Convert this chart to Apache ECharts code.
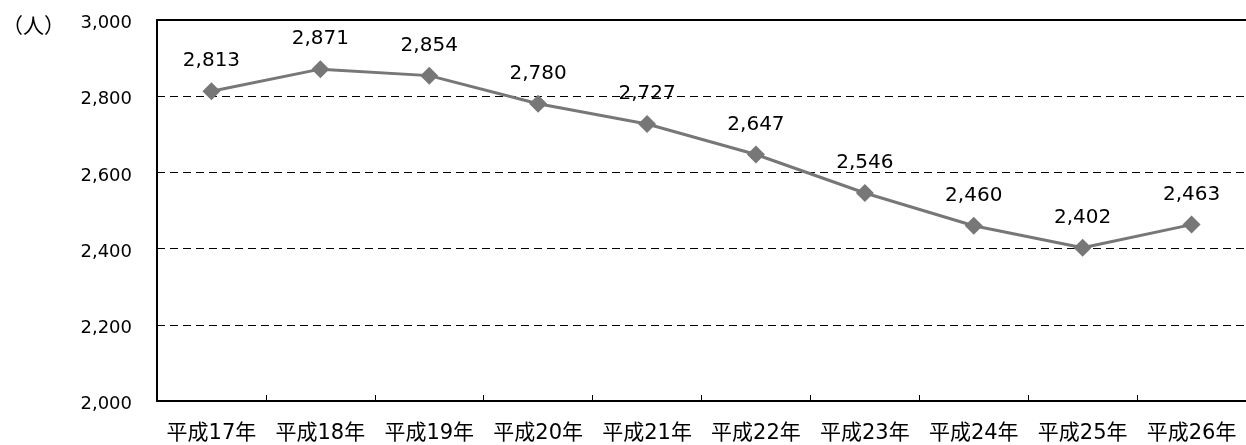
<!DOCTYPE html>
<html><head><meta charset="utf-8">
<script src="https://cdn.jsdelivr.net/npm/echarts@6/dist/echarts.min.js"></script>
<style>html,body{margin:0;padding:0;background:#fff}#c{width:1246px;height:445px}</style>
</head><body><div id="c"></div>
<script>
const categories = ['平成17年','平成18年','平成19年','平成20年','平成21年','平成22年','平成23年','平成24年','平成25年','平成26年'];
const values = [2813, 2871, 2854, 2780, 2727, 2647, 2546, 2460, 2402, 2463];
const unitLabel = '（人）';
const yMin = 2000, yMax = 3000, yStep = 200;

const font = '"DejaVu Sans", "Noto Sans CJK JP", sans-serif';
const chart = echarts.init(document.getElementById('c'), null, {renderer: 'canvas'});
chart.setOption({
  animation: false,
  backgroundColor: '#fff',
  textStyle: {fontFamily: font, color: '#000'},
  graphic: [{type: 'text', left: 2, top: 15, style: {text: unitLabel, font: '21px "Noto Sans CJK JP", sans-serif', fill: '#000'}}],
  grid: {left: 157, top: 20, width: 1096, bottom: 44, containLabel: false},
  xAxis: [{
    type: 'category', data: categories, boundaryGap: true,
    axisLine: {lineStyle: {color: '#000', width: 2}},
    axisTick: {show: true, inside: true, length: 6, lineStyle: {color: '#000', width: 1}},
    axisLabel: {fontSize: 21, color: '#000', margin: 22, fontFamily: font, interval: 0}
  }, {
    type: 'category', data: categories, position: 'top',
    axisLine: {show: true, lineStyle: {color: '#000', width: 2}},
    axisTick: {show: false}, axisLabel: {show: false}
  }],
  yAxis: {
    type: 'value', min: yMin, max: yMax, interval: yStep,
    axisLine: {show: true, lineStyle: {color: '#000', width: 2}},
    axisTick: {show: false},
    axisLabel: {fontSize: 18, color: '#000', margin: 25, fontFamily: font,
      verticalAlign: 'top', lineHeight: 7,
      formatter: v => v.toLocaleString('en-US')},
    splitLine: {show: true, lineStyle: {color: '#000', type: [8, 5], width: 1}}
  },
  series: [{
    type: 'line', data: values,
    symbol: 'diamond', symbolSize: 18,
    lineStyle: {color: '#777', width: 3},
    itemStyle: {color: '#777'},
    label: {show: true, position: 'top', distance: 11, fontSize: 20, color: '#000', fontFamily: font,
      formatter: p => p.value.toLocaleString('en-US')}
  }]
});
</script></body></html>
